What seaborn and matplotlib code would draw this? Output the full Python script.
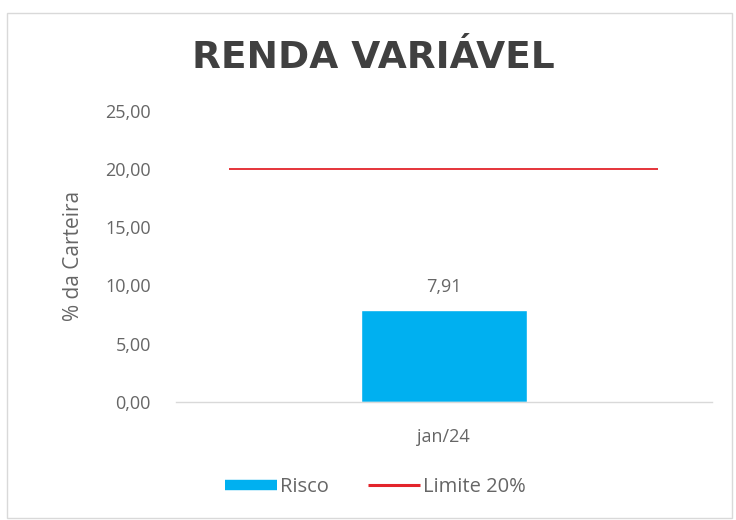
import matplotlib
matplotlib.use("Agg")
import matplotlib.pyplot as plt
import seaborn as sns
import pandas as pd
from matplotlib.ticker import FuncFormatter
from matplotlib.patches import Rectangle
from matplotlib.lines import Line2D

# Data
meses = ["jan/24"]
risco = [7.91]
limite = [20.0]

df = pd.DataFrame({"mes": meses, "risco": risco})

sns.set_style("white")
plt.rcParams['font.family'] = ['Open Sans', 'DejaVu Sans']

GRAY = "#666666"
fig = plt.figure(figsize=(7.36, 5.2), dpi=100)
ax = fig.add_axes([0.239, 0.227, 0.728, 0.560])

sns.barplot(x="mes", y="risco", data=df, color="#00B0F0", width=0.31,
            saturation=1, ax=ax)
ax.hlines(limite, xmin=-0.4, xmax=0.4, color="#E3242B", linewidth=1.3)

for i, v in enumerate(risco):
    ax.text(i, v + 1.2, f"{v:.2f}".replace(".", ","), ha="center", va="bottom",
            fontsize=13, color=GRAY)

ax.set_xlim(-0.5, 0.5)
ax.set_ylim(0, 25)
ax.set_yticks([0, 5, 10, 15, 20, 25])
ax.yaxis.set_major_formatter(FuncFormatter(lambda v, p: f"{v:.2f}".replace(".", ",")))
ax.tick_params(axis="y", length=0, labelsize=13, labelcolor=GRAY, pad=18)
ax.tick_params(axis="x", length=0, labelsize=13, labelcolor=GRAY, pad=19)

for s in ["top", "right", "left"]:
    ax.spines[s].set_visible(False)
ax.spines["bottom"].set_color("#D9D9D9")
ax.spines["bottom"].set_linewidth(1.0)

ax.set_xlabel("")
ax.set_ylabel("% da Carteira", fontsize=15, color=GRAY, labelpad=15)

fig.text(0.507, 0.888, "RENDA VARIÁVEL", ha="center", va="center",
         fontsize=27, fontweight="bold", color="#404040", family="DejaVu Sans")

handles = [Line2D([0], [0], color="#00B0F0", linewidth=7.5, solid_capstyle="butt"),
           Line2D([0], [0], color="#E3242B", linewidth=2.2, solid_capstyle="butt")]
fig.legend(handles, ["Risco", "Limite 20%"], loc="center", bbox_to_anchor=(0.51, 0.063),
           ncol=2, frameon=False, handlelength=2.6, handletextpad=0.15,
           columnspacing=1.9, labelcolor=GRAY,
           prop={"family": ["Open Sans", "DejaVu Sans"], "size": 14.5})

fig.patches.append(Rectangle((0.01, 0.003), 0.985, 0.972, transform=fig.transFigure,
                             fill=False, edgecolor="#D9D9D9", linewidth=1.0))

fig.savefig("out.png", dpi=100)
